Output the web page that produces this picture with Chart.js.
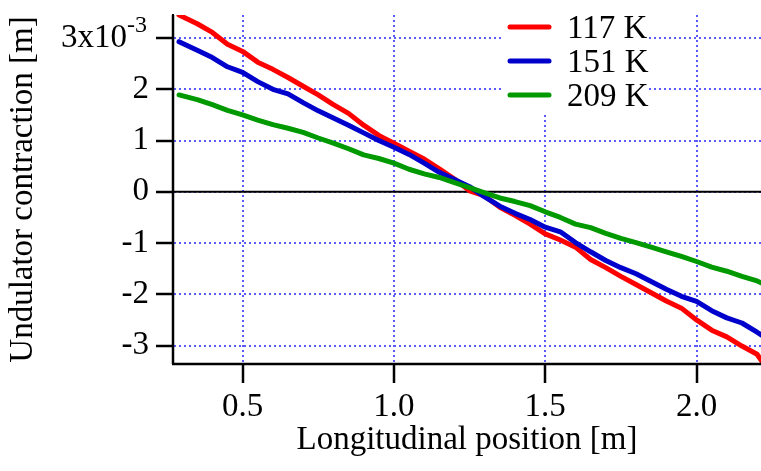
<!DOCTYPE html>
<html>
<head>
<meta charset="utf-8">
<script src="https://cdn.jsdelivr.net/npm/chart.js@4"></script>
<style>
  body { margin: 0; background: #fff; }
</style>
</head>
<body>
<canvas id="chart" width="761" height="471"></canvas>
<script>
// longitudinal position [m]
const positions = [
  0.29, 0.35, 0.40, 0.45, 0.50, 0.55, 0.60, 0.65, 0.70, 0.75,
  0.80, 0.85, 0.90, 0.95, 1.00, 1.05, 1.10, 1.15, 1.20, 1.25,
  1.30, 1.35, 1.40, 1.45, 1.50, 1.55, 1.60, 1.65, 1.70, 1.75,
  1.80, 1.85, 1.90, 1.95, 2.00, 2.05, 2.10, 2.15, 2.20, 2.215,
];

// contraction in units of 1e-3 m
const contraction117 = [
  3.45, 3.28, 3.11, 2.88, 2.74, 2.53, 2.39, 2.23, 2.06, 1.89,
  1.70, 1.53, 1.30, 1.10, 0.95, 0.79, 0.64, 0.45, 0.25, 0.02,
  -0.08, -0.30, -0.46, -0.63, -0.82, -0.94, -1.08, -1.32, -1.48, -1.65,
  -1.81, -1.97, -2.13, -2.27, -2.50, -2.70, -2.83, -3.01, -3.17, -3.30,
];
const contraction151 = [
  2.93, 2.76, 2.62, 2.44, 2.33, 2.15, 2.00, 1.91, 1.74, 1.58,
  1.44, 1.30, 1.15, 1.00, 0.87, 0.73, 0.56, 0.38, 0.24, 0.10,
  -0.10, -0.28, -0.42, -0.54, -0.69, -0.78, -0.99, -1.17, -1.34, -1.48,
  -1.60, -1.75, -1.90, -2.04, -2.14, -2.32, -2.46, -2.56, -2.74, -2.80,
];
const contraction209 = [
  1.89, 1.80, 1.70, 1.59, 1.50, 1.40, 1.31, 1.24, 1.16, 1.05,
  0.95, 0.84, 0.72, 0.65, 0.56, 0.44, 0.35, 0.28, 0.18, 0.08,
  -0.02, -0.12, -0.19, -0.27, -0.39, -0.50, -0.63, -0.70, -0.81, -0.91,
  -0.99, -1.08, -1.17, -1.26, -1.36, -1.47, -1.55, -1.65, -1.74, -1.78,
];

const seriesLabels = ["117 K", "151 K", "209 K"];
const seriesColors = ["#ff0000", "#0000cc", "#009900"];
const xTicks = [0.5, 1.0, 1.5, 2.0];
const yTicks = [-3, -2, -1, 0, 1, 2, 3];
const xRange = [0.27, 2.213];
const yRange = [-3.36, 3.45];

const FONT = "Liberation Serif";
const gridBlue = "#5a5aff";

function toPoints(values) {
  return positions.map((x, i) => ({ x: x, y: values[i] }));
}

// legend drawn inside the plot, top right, on a white box
const insideLegend = {
  id: "insideLegend",
  afterDatasetsDraw(chart) {
    const ctx = chart.ctx;
    ctx.save();
    ctx.setLineDash([]);
    ctx.fillStyle = "#fff";
    ctx.fillRect(503, 15, 146, 97);
    ctx.font = `33px "${FONT}"`;
    ctx.textBaseline = "alphabetic";
    ctx.textAlign = "left";
    let row = 0;
    chart.data.datasets.forEach((ds) => {
      if (!ds.label) return;
      const y = 27 + row * 34;
      ctx.strokeStyle = ds.borderColor;
      ctx.lineWidth = 5;
      ctx.lineCap = "round";
      ctx.beginPath();
      ctx.moveTo(510, y);
      ctx.lineTo(549, y);
      ctx.stroke();
      ctx.fillStyle = "#000";
      ctx.fillText(ds.label, 567, y + 11);
      row++;
    });
    ctx.restore();
  },
};

// top y tick label with exponent: 3x10^-3
const exponentLabel = {
  id: "exponentLabel",
  afterDraw(chart) {
    const ctx = chart.ctx;
    const scale = chart.scales.y;
    const y = scale.getPixelForValue(yTicks[yTicks.length - 1]);
    const right = 147;
    ctx.save();
    ctx.fillStyle = "#000";
    ctx.textAlign = "right";
    ctx.font = `24px "${FONT}"`;
    ctx.textBaseline = "alphabetic";
    const sup = "-3";
    const supW = ctx.measureText(sup).width;
    ctx.fillText(sup, right, y - 6);
    ctx.font = `33px "${FONT}"`;
    ctx.textBaseline = "middle";
    ctx.fillText("3x10", right - supW, y);
    ctx.restore();
  },
};

// solid axis lines and outward tick marks, from the scales' tick pixels
const axesAndTicks = {
  id: "axesAndTicks",
  afterDraw(chart) {
    const ctx = chart.ctx;
    const area = chart.chartArea;
    ctx.save();
    ctx.setLineDash([]);
    ctx.strokeStyle = "#000";
    ctx.lineWidth = 2.5;
    ctx.lineCap = "butt";
    ctx.beginPath();
    ctx.moveTo(area.left, area.top);
    ctx.lineTo(area.left, area.bottom);
    ctx.moveTo(area.left - 1, area.bottom);
    ctx.lineTo(area.right, area.bottom);
    chart.scales.x.ticks.forEach((t) => {
      const px = Math.round(chart.scales.x.getPixelForValue(t.value));
      ctx.moveTo(px, area.bottom);
      ctx.lineTo(px, area.bottom + 19);
    });
    chart.scales.y.ticks.forEach((t) => {
      const py = Math.round(chart.scales.y.getPixelForValue(t.value));
      ctx.moveTo(area.left - 17, py);
      ctx.lineTo(area.left, py);
    });
    ctx.stroke();
    ctx.restore();
  },
};

const datasets = [contraction117, contraction151, contraction209].map(
  (values, i) => ({
    label: seriesLabels[i],
    data: toPoints(values),
    borderColor: seriesColors[i],
    borderWidth: 5,
    pointRadius: 0,
    tension: 0,
    borderCapStyle: "round",
    borderJoinStyle: "round",
    order: 3 - i,
  })
);

// zero line
datasets.push({
  label: "",
  data: [
    { x: xRange[0], y: 0 },
    { x: xRange[1], y: 0 },
  ],
  borderColor: "#000",
  borderWidth: 2,
  pointRadius: 0,
  order: 10,
});

new Chart(document.getElementById("chart"), {
  type: "line",
  data: { datasets: datasets },
  options: {
    responsive: false,
    animation: false,
    devicePixelRatio: 1,
    layout: { padding: { top: 15, left: 0, right: 0, bottom: 0 } },
    plugins: {
      legend: { display: false },
      tooltip: { enabled: false },
    },
    scales: {
      x: {
        type: "linear",
        min: xRange[0],
        max: xRange[1],
        afterBuildTicks: (scale) => {
          scale.ticks = xTicks.map((v) => ({ value: v }));
        },
        afterFit: (scale) => {
          scale.height = 107;
          scale.paddingLeft = 0;
          scale.paddingRight = 0;
        },
        ticks: {
          color: "#000",
          font: { family: FONT, size: 33 },
          padding: 6,
          maxRotation: 0,
          callback: (v) => Number(v).toFixed(1),
        },
        grid: {
          color: gridBlue,
          lineWidth: 2,
          tickColor: "rgba(0,0,0,0)",
          tickLength: 18,
        },
        border: { color: "#000", width: 2, dash: [2, 3] },
        title: {
          display: true,
          text: "Longitudinal position [m]",
          color: "#000",
          font: { family: FONT, size: 33 },
          padding: { top: 0, bottom: 11 },
        },
      },
      y: {
        type: "linear",
        min: yRange[0],
        max: yRange[1],
        afterBuildTicks: (scale) => {
          scale.ticks = yTicks.map((v) => ({ value: v }));
        },
        afterFit: (scale) => {
          scale.width = 173;
          scale.paddingTop = 0;
          scale.paddingBottom = 0;
        },
        ticks: {
          color: "#000",
          font: { family: FONT, size: 33 },
          padding: 7,
          callback: (v) => (v === 3 ? "" : String(v)),
        },
        grid: {
          color: gridBlue,
          lineWidth: 2,
          tickColor: "rgba(0,0,0,0)",
          tickLength: 17,
        },
        border: { color: "#000", width: 2, dash: [2, 3] },
        title: {
          display: true,
          text: "Undulator contraction [m]",
          color: "#000",
          font: { family: FONT, size: 33 },
          padding: { top: 4, bottom: 0 },
        },
      },
    },
  },
  plugins: [insideLegend, exponentLabel, axesAndTicks],
});
</script>
</body>
</html>
